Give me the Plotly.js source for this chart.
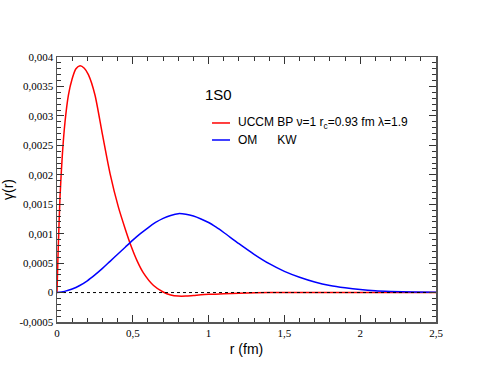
<!DOCTYPE html>
<html>
<head>
<meta charset="utf-8">
<script src="https://cdn.plot.ly/plotly-3.0.1.min.js"></script>
<style>html,body{margin:0;padding:0;background:#fff;}#chart{width:491px;height:379px;}</style>
</head>
<body>
<div id="chart"></div>
<script>
// UCCM BP (red) correlation function
var rRed = [0, 0.005, 0.01, 0.02, 0.035, 0.053, 0.075, 0.1, 0.125, 0.152, 0.18, 0.207, 0.25, 0.3, 0.35, 0.405, 0.45, 0.483, 0.53, 0.571, 0.637, 0.7, 0.75, 0.8, 0.85, 0.9, 1.0, 1.1, 1.2, 1.4, 1.8, 2.2, 2.5];
var gRed = [0, 0.00048, 0.0009, 0.00163, 0.00233, 0.0029, 0.00335, 0.00363, 0.0038, 0.00385, 0.00381, 0.0037, 0.00336, 0.00268, 0.00202, 0.00145, 0.00108, 0.00083, 0.00053, 0.00033, 0.00012, 0.00001, -0.00004, -0.00006, -0.00006, -0.00005, -0.00003, -0.00002, -0.00001, 0, 0, 0, 0];
// OM KW (blue)
var rBlue = [0, 0.05, 0.1, 0.15, 0.2, 0.25, 0.3, 0.35, 0.4, 0.45, 0.5, 0.55, 0.6, 0.65, 0.7, 0.75, 0.8, 0.85, 0.9, 0.95, 1.0, 1.05, 1.1, 1.2, 1.3, 1.4, 1.5, 1.6, 1.7, 1.8, 1.9, 2.0, 2.1, 2.2, 2.35, 2.5];
var gBlue = [0, 0.00002, 0.00006, 0.00012, 0.0002, 0.0003, 0.00041, 0.00053, 0.00065, 0.00077, 0.00089, 0.001, 0.0011, 0.00119, 0.00126, 0.00131, 0.00134, 0.00133, 0.0013, 0.00125, 0.00119, 0.00111, 0.00102, 0.00083, 0.00065, 0.00049, 0.00036, 0.00026, 0.00018, 0.00012, 0.00008, 0.00005, 0.00003, 0.00002, 0.00001, 0.000005];
// zero reference line
var rZero = [0, 2.5];
var gZero = [0, 0];

var xTickVals = [0, 0.5, 1, 1.5, 2, 2.5];
var xTickText = ["0", "0,5", "1", "1,5", "2", "2,5"];
var yTickVals = [-0.0005, 0, 0.0005, 0.001, 0.0015, 0.002, 0.0025, 0.003, 0.0035, 0.004];
var yTickText = ["-0,0005", "0", "0,0005", "0,001", "0,0015", "0,002", "0,0025", "0,003", "0,0035", "0,004"];

var nameRed = "UCCM BP \u03bd=1 r<sub>c</sub>=0.93 fm \u03bb=1.9";
var nameBlue = "OM\u00a0\u00a0\u00a0\u00a0\u00a0\u00a0KW";
var colRed = '#ff0000', colBlue = '#0000ff';

var traces = [
  {x: rRed, y: gRed, name: nameRed, type: 'scatter', mode: 'lines', showlegend: false,
   line: {color: colRed, width: 1.5, shape: 'spline', smoothing: 0.7}},
  {x: rBlue, y: gBlue, name: nameBlue, type: 'scatter', mode: 'lines', showlegend: false,
   line: {color: colBlue, width: 1.5, shape: 'spline', smoothing: 0.8}},
  {x: rZero, y: gZero, type: 'scatter', mode: 'lines', showlegend: false, hoverinfo: 'skip',
   line: {color: '#000000', width: 1, dash: 'dot'}}
];

var serif = 'Liberation Serif';
var sans = 'Liberation Sans';

var axisCommon = {
  showgrid: false, zeroline: false, showline: true, linecolor: '#555', linewidth: 1.5,
  mirror: 'allticks', ticks: 'inside', ticklen: 7, tickwidth: 1, tickcolor: '#333',
  tickfont: {family: serif, size: 11, color: '#000'}
};

// legend drawn in paper coordinates
var legX0 = 0.409, legX1 = 0.4565, legTextX = 0.4723;
var legY = [0.751, 0.6868];

var layout = {
  width: 491, height: 379,
  margin: {l: 57, r: 55, t: 57, b: 57},
  paper_bgcolor: '#fff', plot_bgcolor: '#fff',
  showlegend: false,
  xaxis: Object.assign({}, axisCommon, {
    range: [0, 2.5], tickvals: xTickVals, ticktext: xTickText,
    minor: {dtick: 0.1, ticks: 'inside', ticklen: 4, tickcolor: '#333'},
    title: {text: 'r (fm)', font: {family: sans, size: 14, color: '#000'}, standoff: 6}
  }),
  yaxis: Object.assign({}, axisCommon, {
    range: [-0.0005, 0.004], tickvals: yTickVals, ticktext: yTickText,
    minor: {dtick: 0.0001, ticks: 'inside', ticklen: 4, tickcolor: '#333'},
    title: {text: '\u03b3(r)', font: {family: sans, size: 14, color: '#000'}, standoff: 6}
  }),
  shapes: [
    {type: 'line', xref: 'paper', yref: 'paper', x0: legX0, x1: legX1, y0: legY[0], y1: legY[0], line: {color: colRed, width: 1.5}},
    {type: 'line', xref: 'paper', yref: 'paper', x0: legX0, x1: legX1, y0: legY[1], y1: legY[1], line: {color: colBlue, width: 1.5}}
  ],
  annotations: [
    {text: '1S0', xref: 'paper', yref: 'paper', x: 0.385, y: 0.857, xanchor: 'left', yanchor: 'middle',
     showarrow: false, font: {family: sans, size: 15, color: '#000'}},
    {text: nameRed, xref: 'paper', yref: 'paper', x: legTextX, y: legY[0], xanchor: 'left', yanchor: 'middle',
     showarrow: false, font: {family: sans, size: 12, color: '#000'}},
    {text: nameBlue, xref: 'paper', yref: 'paper', x: legTextX, y: legY[1], xanchor: 'left', yanchor: 'middle',
     showarrow: false, font: {family: sans, size: 12, color: '#000'}}
  ]
};

Plotly.newPlot('chart', traces, layout, {staticPlot: true, displayModeBar: false});
</script>
</body>
</html>
